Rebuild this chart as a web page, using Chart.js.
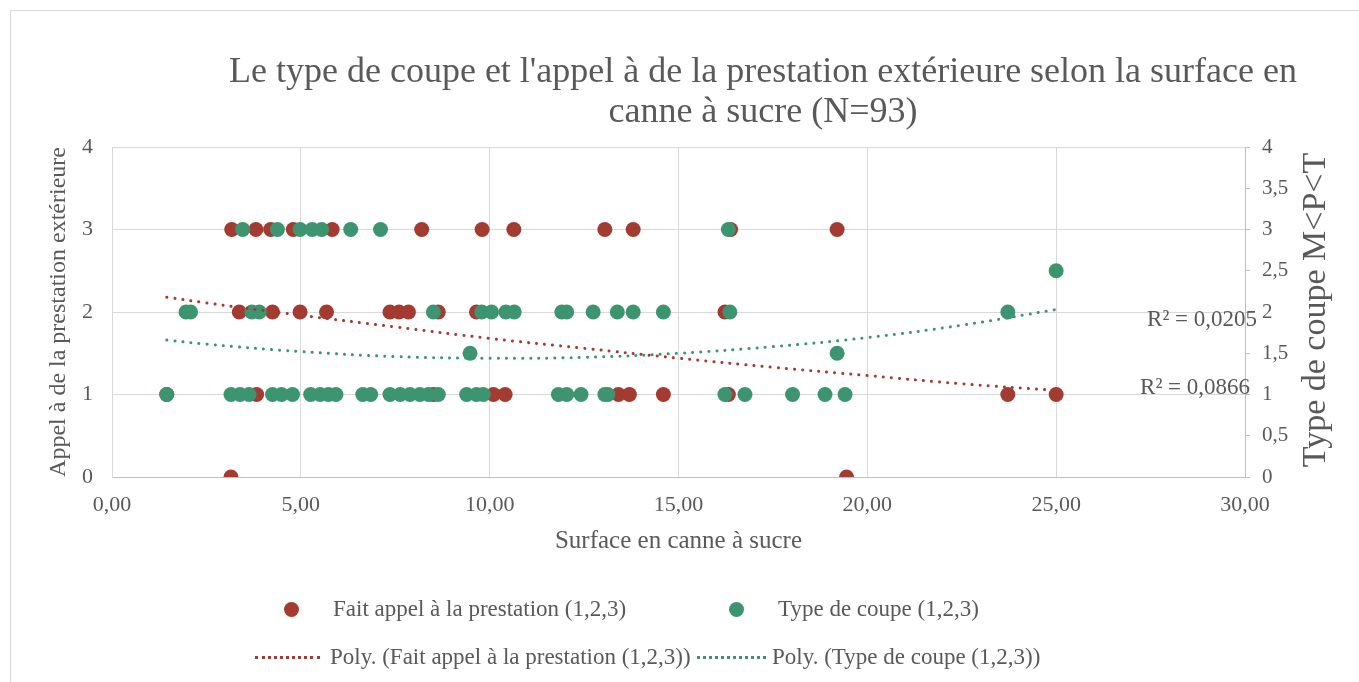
<!DOCTYPE html>
<html>
<head>
<meta charset="utf-8">
<script src="https://cdn.jsdelivr.net/npm/chart.js@4.4.1/dist/chart.umd.min.js"></script>
<style>
  html, body { margin: 0; padding: 0; background: #fff; }
  #wrap { position: relative; width: 1359px; height: 682px; overflow: hidden; font-family: "Liberation Serif", "DejaVu Serif", serif; color: #595959; }
  #frame { position: absolute; left: 10px; top: 10px; width: 1400px; height: 700px; border: 1px solid #d9d9d9; box-sizing: border-box; }
  #title { position: absolute; left: 163px; top: 50px; width: 1200px; text-align: center; font-size: 36px; line-height: 40px; }
  canvas { position: absolute; left: 0; top: 0; }
  .lg { position: absolute; font-size: 23px; line-height: 26px; white-space: nowrap; }
  .dot { position: absolute; width: 15px; height: 15px; border-radius: 50%; }
  .dash { position: absolute; height: 0; border-top: 3px dotted; }
</style>
</head>
<body>
<div id="wrap">
  <div id="frame"></div>
  <canvas id="c" width="1359" height="682"></canvas>
  <div id="title">Le type de coupe et l'appel à de la prestation extérieure selon la surface en<br>canne à sucre (N=93)</div>
  <div class="dot" style="left:284px;top:602px;background:#A33B31"></div>
  <div class="lg" style="left:333px;top:596px">Fait appel à la prestation (1,2,3)</div>
  <div class="dot" style="left:729px;top:602px;background:#3C9570"></div>
  <div class="lg" style="left:778px;top:596px">Type de coupe (1,2,3)</div>
  <div class="dash" style="left:255px;top:656px;width:65px;border-color:#A33B31"></div>
  <div class="lg" style="left:330px;top:644px">Poly. (Fait appel à la prestation (1,2,3))</div>
  <div class="dash" style="left:697px;top:656px;width:69px;border-color:#3C9570"></div>
  <div class="lg" style="left:772px;top:644px">Poly. (Type de coupe (1,2,3))</div>
</div>
<script>
// ---- Data (surface in canne à sucre, grouped by value) ----
const redAt3 = [3.17, 3.81, 4.20, 4.80, 5.83, 8.20, 9.80, 10.64, 13.05, 13.80, 16.38, 19.20];
const redAt2 = [3.37, 4.25, 4.98, 5.68, 7.36, 7.60, 7.85, 8.64, 9.65, 16.23];
const redAt1 = [1.45, 3.83, 8.51, 10.10, 10.41, 13.41, 13.70, 14.60, 16.32, 23.72, 25.00];
const redAt0 = [3.15, 19.45];

const greenAt3 = [3.46, 4.38, 4.98, 5.30, 5.55, 6.32, 7.11, 16.32];
const greenAt25 = [25.00];
const greenAt2 = [1.96, 2.08, 3.70, 3.90, 8.51, 9.79, 10.05, 10.43, 10.65, 11.91, 12.04, 12.74, 13.38, 13.80, 14.60, 16.36, 23.72];
const greenAt15 = [9.48, 19.20];
const greenAt1 = [1.45, 3.15, 3.39, 3.63, 4.25, 4.49, 4.78, 5.26, 5.51, 5.73, 5.93, 6.64, 6.85, 7.36, 7.63, 7.89, 8.15, 8.38, 8.64, 9.39, 9.65, 9.83, 11.82, 12.04, 12.42, 13.05, 13.13, 16.23, 16.76, 18.02, 18.88, 19.41];

// polynomial trendlines, values
const trendX     = [1.45, 2.5, 5, 7.5, 10, 12.5, 15, 17.5, 20, 22.5, 25];
const redTrendY  = [2.18, 2.11, 1.96, 1.82, 1.68, 1.56, 1.44, 1.33, 1.23, 1.13, 1.05];
const greenTrendY= [1.66, 1.61, 1.52, 1.46, 1.44, 1.45, 1.50, 1.58, 1.69, 1.84, 2.03];

const r2Labels = ['R² = 0,0866', 'R² = 0,0205'];
const seriesNames = ['Fait appel à la prestation (1,2,3)', 'Type de coupe (1,2,3)'];

const RED = '#A33B31', GREEN = '#3C9570', TXT = '#595959', GRID = '#d9d9d9';

function pts(xs, y) { return xs.map(x => ({ x, y })); }
function line(xs, ys) { return xs.map((x, i) => ({ x, y: ys[i] })); }
const redPts = [].concat(pts(redAt3, 3), pts(redAt2, 2), pts(redAt1, 1), pts(redAt0, 0));
const greenPts = [].concat(pts(greenAt3, 3), pts(greenAt25, 2.5), pts(greenAt2, 2), pts(greenAt15, 1.5), pts(greenAt1, 1));

const comma = v => String(v).replace('.', ',');

const extras = {
  id: 'extras',
  afterDraw(chart) {
    const ctx = chart.ctx;
    ctx.save();
    ctx.fillStyle = TXT;
    ctx.font = '34px "Liberation Serif"';
    ctx.translate(1316, 310);
    ctx.rotate(-Math.PI / 2);
    ctx.textAlign = 'center';
    ctx.textBaseline = 'middle';
    ctx.fillText('Type de coupe M<P<T', 0, 0);
    ctx.restore();
    ctx.save();
    ctx.fillStyle = TXT;
    ctx.font = '23px "Liberation Serif"';
    ctx.textAlign = 'right';
    ctx.textBaseline = 'middle';
    ctx.fillText(r2Labels[1], 1257, 320);
    ctx.fillText(r2Labels[0], 1250, 388);
    ctx.restore();
  }
};

new Chart(document.getElementById('c'), {
  type: 'scatter',
  data: {
    datasets: [
      { label: 'Poly. (' + seriesNames[0] + ')', type: 'line', data: line(trendX, redTrendY), yAxisID: 'y', tension: 0.4,
        borderColor: RED, borderWidth: 3, borderDash: [0.1, 8], borderCapStyle: 'round', pointRadius: 0, fill: false, order: 0 },
      { label: 'Poly. (' + seriesNames[1] + ')', type: 'line', data: line(trendX, greenTrendY), yAxisID: 'y2', tension: 0.4,
        borderColor: GREEN, borderWidth: 3, borderDash: [0.1, 8], borderCapStyle: 'round', pointRadius: 0, fill: false, order: 0 },
      { label: seriesNames[1], data: greenPts, yAxisID: 'y2', backgroundColor: GREEN, borderWidth: 0, pointRadius: 7.5, pointHoverRadius: 7.5, order: 1 },
      { label: seriesNames[0], data: redPts, yAxisID: 'y', backgroundColor: RED, borderWidth: 0, pointRadius: 7.5, pointHoverRadius: 7.5, order: 2 }
    ]
  },
  options: {
    responsive: false,
    animation: false,
    devicePixelRatio: 1,
    layout: { padding: { left: 10, right: 0, top: 147, bottom: 120 } },
    plugins: { legend: { display: false }, title: { display: false }, tooltip: { enabled: false } },
    scales: {
      x: {
        type: 'linear', min: 0, max: 30,
        ticks: { stepSize: 5, color: TXT, font: { family: 'Liberation Serif', size: 22 }, padding: 15,
                 callback: v => v.toFixed(2).replace('.', ',') },
        grid: { color: GRID, drawTicks: false },
        border: { color: '#bfbfbf' },
        title: { display: true, text: 'Surface en canne à sucre', color: TXT, font: { family: 'Liberation Serif', size: 25 }, padding: { top: 0, bottom: 6 } },
        afterFit: s => { s.height = 85; }
      },
      y: {
        position: 'left', min: 0, max: 4,
        ticks: { stepSize: 1, color: TXT, font: { family: 'Liberation Serif', size: 22 }, padding: 19 },
        grid: { color: GRID, drawTicks: false },
        border: { color: GRID },
        title: { display: true, text: 'Appel à de la prestation extérieure', color: TXT, font: { family: 'Liberation Serif', size: 24 }, padding: { top: 34, bottom: 0 } },
        afterFit: s => { s.width = 102; }
      },
      y2: {
        position: 'right', min: 0, max: 4,
        ticks: { stepSize: 0.5, color: TXT, font: { family: 'Liberation Serif', size: 21 }, padding: 12, callback: v => comma(v) },
        grid: { drawOnChartArea: false, color: '#bfbfbf', tickLength: 5 },
        border: { color: '#bfbfbf' },
        afterFit: s => { s.width = 114; }
      }
    }
  },
  plugins: [extras]
});
</script>
</body>
</html>
